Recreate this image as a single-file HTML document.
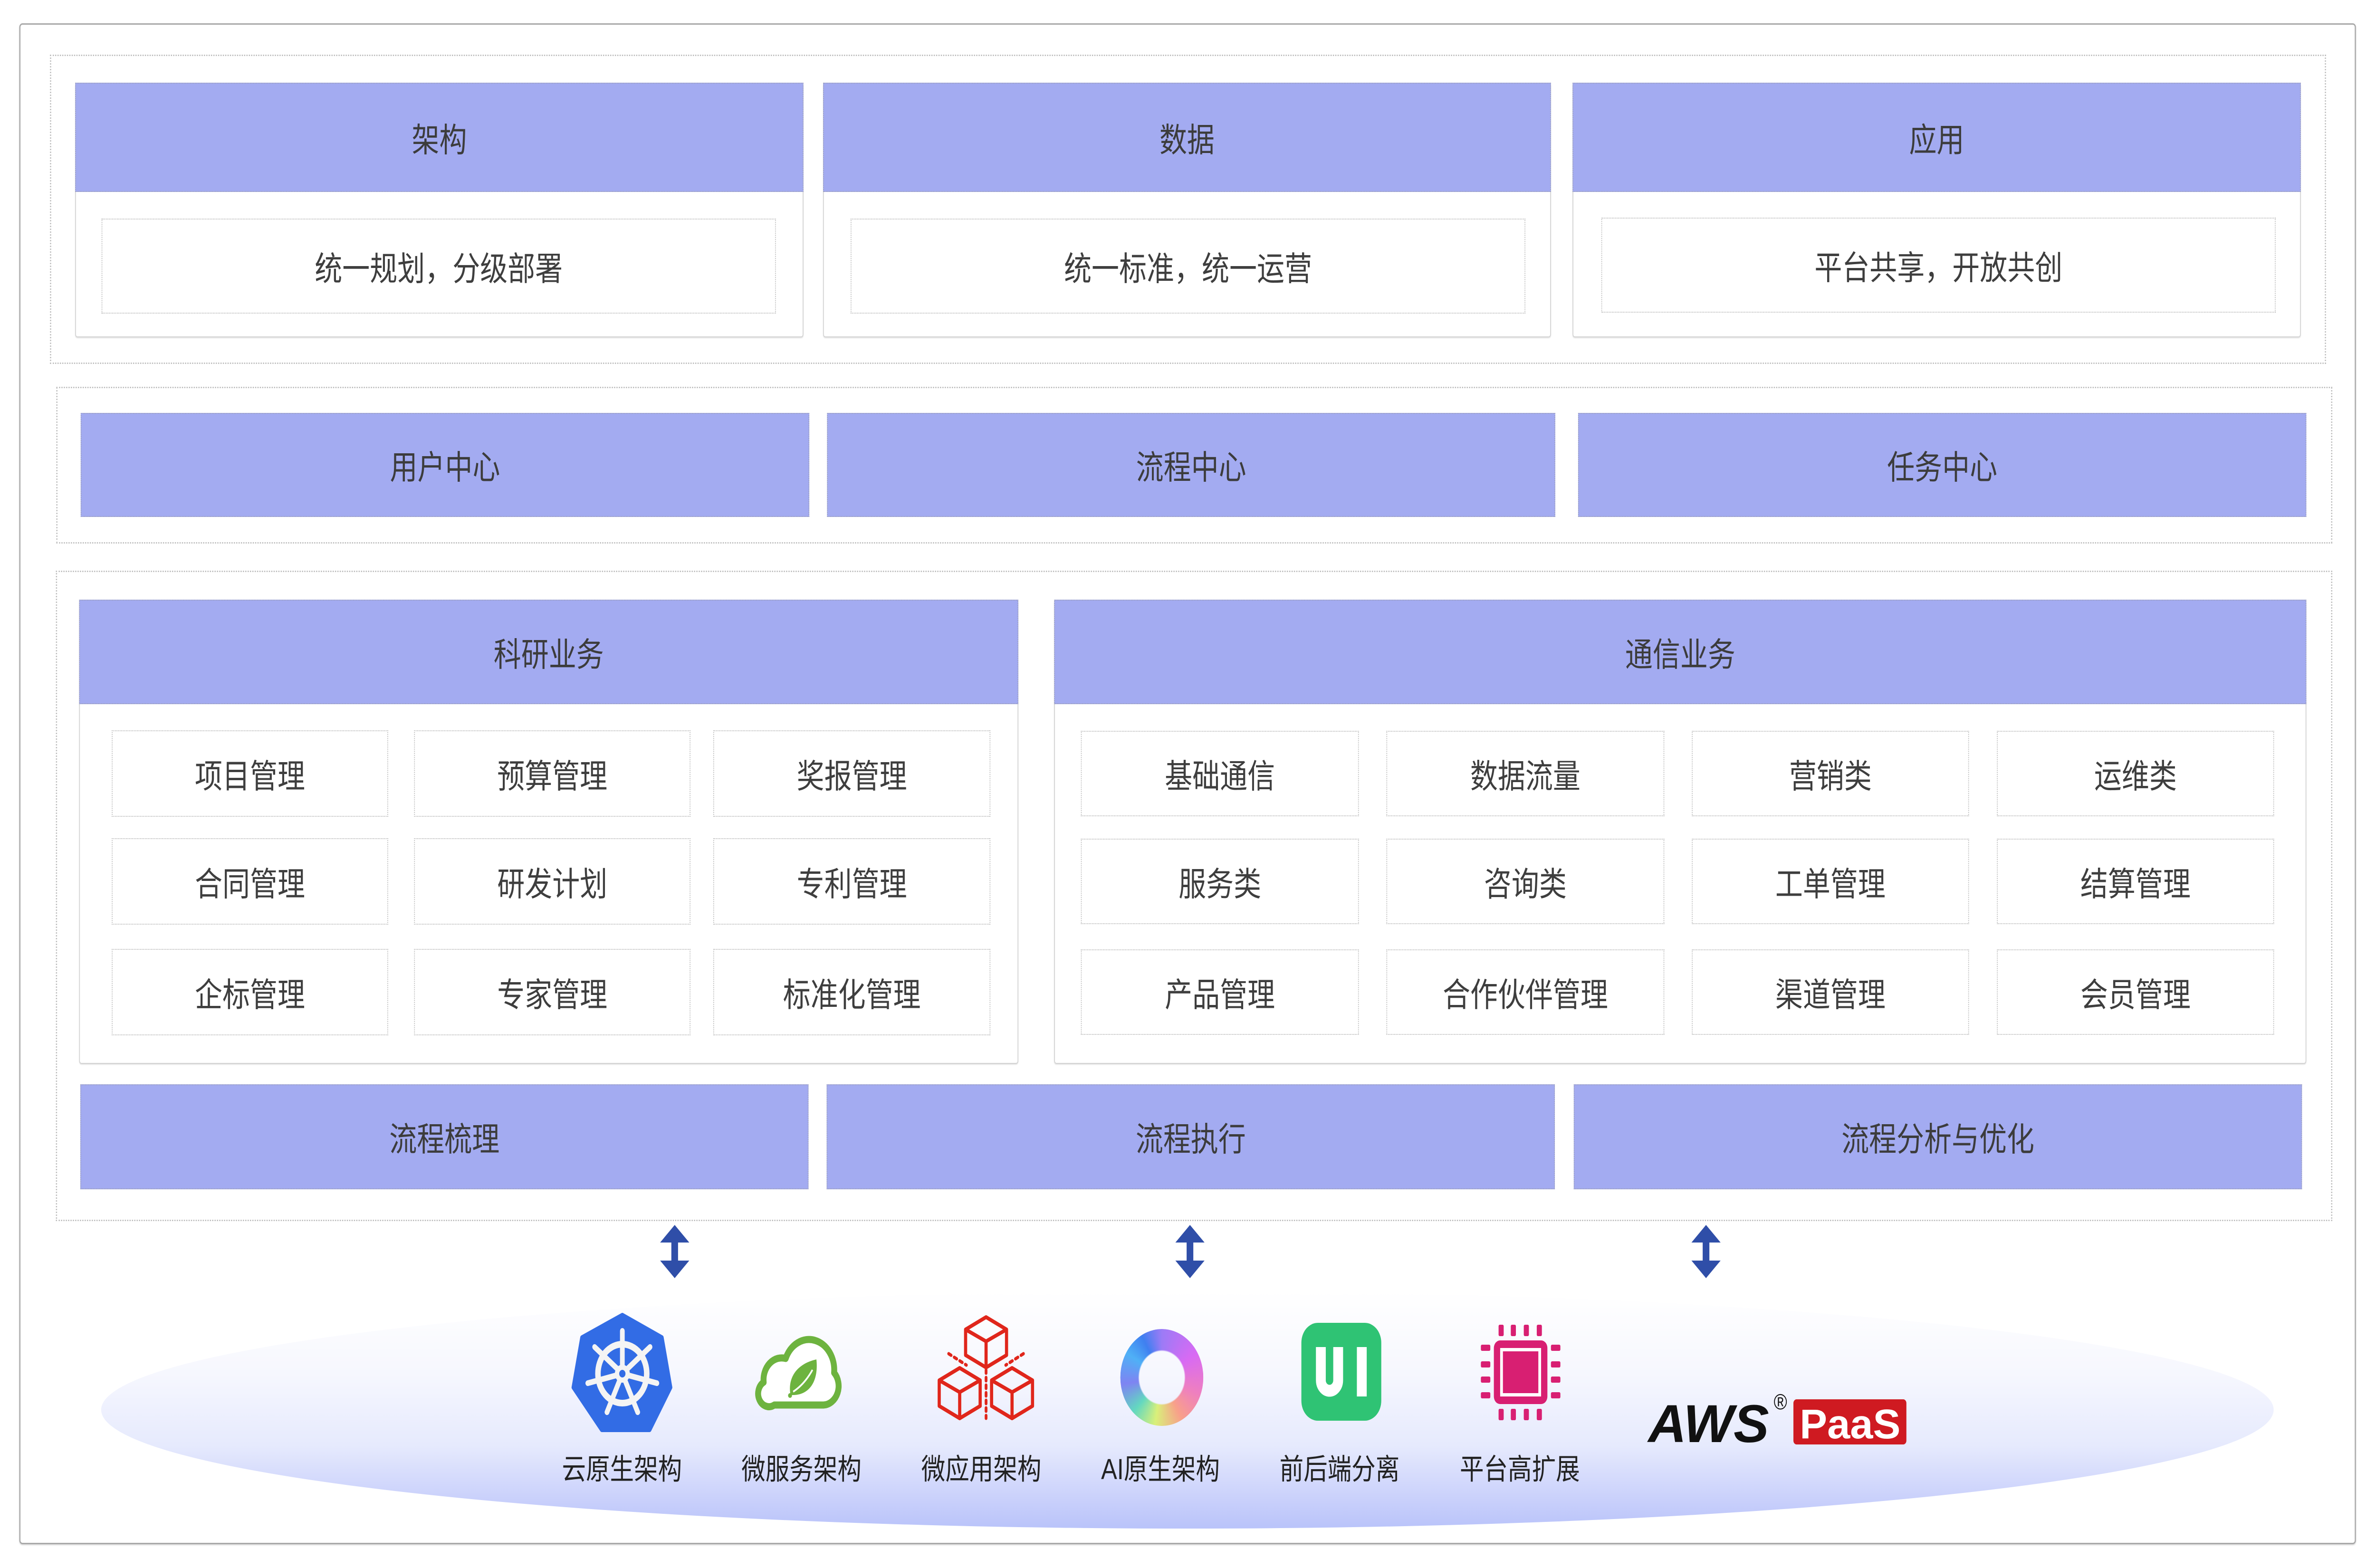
<!DOCTYPE html>
<html>
<head>
<meta charset="utf-8">
<style>
html,body{margin:0;padding:0;background:#fff;width:100%;height:100%;overflow:hidden;}
#root{position:fixed;left:0;top:0;width:100vw;height:100vh;display:block;}
.page{position:relative;width:6036px;height:3300px;background:#fff;font-family:"Liberation Sans","Noto Sans CJK SC",sans-serif;overflow:hidden;}
.a{position:absolute;box-sizing:border-box;}
.outer{border:3px solid #a9a9a9;border-radius:8px;box-shadow:0 2px 3px rgba(0,0,0,0.15);}
.grp{border:3px dotted #bfbfbf;}
.body{background:#fff;border:2px solid #d3d3d3;border-radius:6px;box-shadow:0 2px 2px rgba(0,0,0,0.10);}
.hdr{background:#a3abf1;border:2px dotted #9c9fba;display:flex;align-items:center;justify-content:center;font-size:70px;color:#3c3c3c;}
.item{background:#fff;border:2px dotted #bbbbbb;display:flex;align-items:center;justify-content:center;font-size:70px;color:#3e3e3e;}
.ell{border-radius:50%;background:linear-gradient(to bottom,#ffffff 0%,#f6f7fe 35%,#e6eafd 65%,#c9d0fb 88%,#b9c3fa 100%);}
.ai{border-radius:50%;background:conic-gradient(from 0deg,#9c7bf6 0deg,#d86af3 60deg,#ee7fc0 110deg,#f8a08a 150deg,#d9f07a 190deg,#63d8c0 225deg,#7e84f2 262deg,#4fb0f6 300deg,#3f7ff0 330deg,#9c7bf6 360deg);-webkit-mask:radial-gradient(closest-side,transparent 54%,#000 57%);mask:radial-gradient(closest-side,transparent 54%,#000 57%);}
</style>
</head>
<body>
<svg id="root" viewBox="0 0 6036 3300" preserveAspectRatio="none" xmlns="http://www.w3.org/2000/svg">
<foreignObject x="0" y="0" width="6036" height="3300">
<div xmlns="http://www.w3.org/1999/xhtml" class="page">

<!-- outer frame -->
<div class="a outer" style="left:49px;top:49px;width:5936px;height:3201px;"></div>

<!-- bottom ellipse -->
<div class="a ell" style="left:257px;top:2717px;width:5519px;height:500px;"></div>

<!-- Group 1 -->
<div class="a grp" style="left:127px;top:115px;width:5782px;height:651px;"></div>

<div class="a body" style="left:191px;top:174px;width:1850px;height:536px;"></div>
<div class="a hdr" style="left:191px;top:174px;width:1850px;height:230px;">架构</div>
<div class="a item" style="left:258px;top:460px;width:1713px;height:200px;">统一规划，分级部署</div>

<div class="a body" style="left:2091px;top:174px;width:1849px;height:536px;"></div>
<div class="a hdr" style="left:2091px;top:174px;width:1849px;height:230px;">数据</div>
<div class="a item" style="left:2161px;top:460px;width:1714px;height:200px;">统一标准，统一运营</div>

<div class="a body" style="left:3995px;top:174px;width:1850px;height:536px;"></div>
<div class="a hdr" style="left:3995px;top:174px;width:1850px;height:230px;">应用</div>
<div class="a item" style="left:4068px;top:458px;width:1713px;height:200px;">平台共享，开放共创</div>

<!-- Group 2 -->
<div class="a grp" style="left:143px;top:814px;width:5782px;height:330px;"></div>
<div class="a hdr" style="left:205px;top:869px;width:1851px;height:219px;">用户中心</div>
<div class="a hdr" style="left:2101px;top:869px;width:1850px;height:219px;">流程中心</div>
<div class="a hdr" style="left:4009px;top:869px;width:1850px;height:219px;">任务中心</div>

<!-- Group 3 -->
<div class="a grp" style="left:142px;top:1201px;width:5783px;height:1369px;"></div>

<div class="a body" style="left:201px;top:1262px;width:2386px;height:977px;"></div>
<div class="a hdr" style="left:201px;top:1262px;width:2386px;height:220px;">科研业务</div>

<div class="a item" style="left:284px;top:1537px;width:702px;height:182px;">项目管理</div>
<div class="a item" style="left:1052px;top:1537px;width:702px;height:182px;">预算管理</div>
<div class="a item" style="left:1812px;top:1537px;width:704px;height:182px;">奖报管理</div>
<div class="a item" style="left:284px;top:1764px;width:702px;height:182px;">合同管理</div>
<div class="a item" style="left:1052px;top:1764px;width:702px;height:182px;">研发计划</div>
<div class="a item" style="left:1812px;top:1764px;width:704px;height:182px;">专利管理</div>
<div class="a item" style="left:284px;top:1997px;width:702px;height:182px;">企标管理</div>
<div class="a item" style="left:1052px;top:1997px;width:702px;height:182px;">专家管理</div>
<div class="a item" style="left:1812px;top:1997px;width:704px;height:182px;">标准化管理</div>

<div class="a body" style="left:2678px;top:1262px;width:3181px;height:977px;"></div>
<div class="a hdr" style="left:2678px;top:1262px;width:3181px;height:220px;">通信业务</div>

<div class="a item" style="left:2746px;top:1538px;width:706px;height:180px;">基础通信</div>
<div class="a item" style="left:3522px;top:1538px;width:706px;height:180px;">数据流量</div>
<div class="a item" style="left:4298px;top:1538px;width:704px;height:180px;">营销类</div>
<div class="a item" style="left:5073px;top:1538px;width:704px;height:180px;">运维类</div>
<div class="a item" style="left:2746px;top:1765px;width:706px;height:180px;">服务类</div>
<div class="a item" style="left:3522px;top:1765px;width:706px;height:180px;">咨询类</div>
<div class="a item" style="left:4298px;top:1765px;width:704px;height:180px;">工单管理</div>
<div class="a item" style="left:5073px;top:1765px;width:704px;height:180px;">结算管理</div>
<div class="a item" style="left:2746px;top:1998px;width:706px;height:180px;">产品管理</div>
<div class="a item" style="left:3522px;top:1998px;width:706px;height:180px;">合作伙伴管理</div>
<div class="a item" style="left:4298px;top:1998px;width:704px;height:180px;">渠道管理</div>
<div class="a item" style="left:5073px;top:1998px;width:704px;height:180px;">会员管理</div>

<div class="a hdr" style="left:204px;top:2282px;width:1850px;height:221px;">流程梳理</div>
<div class="a hdr" style="left:2100px;top:2282px;width:1850px;height:221px;">流程执行</div>
<div class="a hdr" style="left:3998px;top:2282px;width:1850px;height:221px;">流程分析与优化</div>

<!-- AI ring -->
<div class="a ai" style="left:2846px;top:2797px;width:211px;height:204px;"></div>

</div>
</foreignObject>

  <!-- arrows -->
  <g fill="#2f4ea8">
    <polygon points="1714,2578 1751,2615 1722.5,2615 1722.5,2653 1751,2653 1714,2690 1677,2653 1705.5,2653 1705.5,2615 1677,2615"/>
    <polygon points="3023,2578 3060,2615 3031.5,2615 3031.5,2653 3060,2653 3023,2690 2986,2653 3014.5,2653 3014.5,2615 2986,2615"/>
    <polygon points="4334,2578 4371,2615 4342.5,2615 4342.5,2653 4371,2653 4334,2690 4297,2653 4325.5,2653 4325.5,2615 4297,2615"/>
  </g>

  <!-- Kubernetes icon -->
  <g transform="translate(1457,2768)">
    <polygon points="124,0 224,47 246,152 193,241 72,241 0,152 22,47" fill="#326ce5" stroke="#326ce5" stroke-width="10" stroke-linejoin="round"/>
    <g transform="translate(124,123)" stroke="#f4f4f4" stroke-linecap="round" fill="none">
      <circle r="62" stroke-width="14"/>
      <g stroke-width="12">
        <line x1="0" y1="0" x2="0" y2="-90" transform="rotate(0)"/>
        <line x1="0" y1="0" x2="0" y2="-90" transform="rotate(51.43)"/>
        <line x1="0" y1="0" x2="0" y2="-90" transform="rotate(102.86)"/>
        <line x1="0" y1="0" x2="0" y2="-90" transform="rotate(154.29)"/>
        <line x1="0" y1="0" x2="0" y2="-90" transform="rotate(205.71)"/>
        <line x1="0" y1="0" x2="0" y2="-90" transform="rotate(257.14)"/>
        <line x1="0" y1="0" x2="0" y2="-90" transform="rotate(308.57)"/>
      </g>
      <circle r="19" fill="#f4f4f4" stroke="none"/>
      <circle r="8" fill="#326ce5" stroke="none"/>
    </g>
  </g>

  <!-- Spring cloud icon -->
  <g transform="translate(1912,2809)">
    <path d="M 55 148 L 180 148 A 40 40 0 0 0 207 80 A 64 64 0 0 0 84 50 A 46 46 0 0 0 28 100 A 26 26 0 0 0 55 148 Z" fill="#ffffff" stroke="#6db33f" stroke-width="15" stroke-linejoin="round"/>
    <path d="M 96 126 C 88 86 118 60 162 52 C 168 98 144 128 100 127 Z" fill="#6db33f"/>
    <path d="M 103 120 Q 132 104 152 74" stroke="#ffffff" stroke-width="4" fill="none"/>
    <circle cx="95" cy="128" r="5" fill="#6db33f"/>
  </g>

  <!-- Micro-app cubes icon -->
  <g transform="translate(2381,2767)" fill="none" stroke="#e0261b" stroke-width="8" stroke-linejoin="round">
    <g transform="translate(124,58)">
      <polygon points="0,-53 52,-27 52,27 0,53 -52,27 -52,-27"/>
      <polyline points="-52,-27 0,-2 52,-27"/>
      <line x1="0" y1="-2" x2="0" y2="53"/>
    </g>
    <g transform="translate(57,165)">
      <polygon points="0,-53 52,-27 52,27 0,53 -52,27 -52,-27"/>
      <polyline points="-52,-27 0,-2 52,-27"/>
      <line x1="0" y1="-2" x2="0" y2="53"/>
    </g>
    <g transform="translate(190,165)">
      <polygon points="0,-53 52,-27 52,27 0,53 -52,27 -52,-27"/>
      <polyline points="-52,-27 0,-2 52,-27"/>
      <line x1="0" y1="-2" x2="0" y2="53"/>
    </g>
    <g stroke-dasharray="7 9" stroke-width="7" stroke-linecap="round">
      <line x1="124" y1="116" x2="124" y2="218"/>
      <line x1="29" y1="82" x2="74" y2="106"/>
      <line x1="219" y1="82" x2="174" y2="106"/>
    </g>
  </g>

  <!-- UI icon -->
  <g transform="translate(3306,2784)">
    <rect x="0" y="0" width="203" height="206" rx="42" fill="#2fc374"/>
    <path d="M 49.5 51 V 121 A 22 22 0 0 0 93.5 121 V 51" stroke="#ffffff" stroke-width="25" fill="none"/>
    <rect x="141" y="51" width="25" height="104" fill="#ffffff"/>
  </g>

  <!-- Chip icon -->
  <g transform="translate(3762,2788)" fill="#d81f72">
    <rect x="33" y="33" width="136" height="134" rx="16"/>
    <rect x="49" y="49" width="104" height="102" fill="#ffffff"/>
    <rect x="56" y="56" width="90" height="88"/>
    <rect x="45" y="0" width="13" height="24" rx="3"/>
    <rect x="76" y="0" width="13" height="24" rx="3"/>
    <rect x="109" y="0" width="13" height="24" rx="3"/>
    <rect x="142" y="0" width="13" height="24" rx="3"/>
    <rect x="45" y="177" width="13" height="24" rx="3"/>
    <rect x="76" y="177" width="13" height="24" rx="3"/>
    <rect x="109" y="177" width="13" height="24" rx="3"/>
    <rect x="142" y="177" width="13" height="24" rx="3"/>
    <rect x="0" y="42" width="24" height="13" rx="3"/>
    <rect x="0" y="77" width="24" height="13" rx="3"/>
    <rect x="0" y="109" width="24" height="13" rx="3"/>
    <rect x="0" y="142" width="24" height="13" rx="3"/>
    <rect x="178" y="42" width="24" height="13" rx="3"/>
    <rect x="178" y="77" width="24" height="13" rx="3"/>
    <rect x="178" y="109" width="24" height="13" rx="3"/>
    <rect x="178" y="142" width="24" height="13" rx="3"/>
  </g>

  <!-- AWS PaaS logo -->
  <text x="4187" y="3035" font-family="Liberation Sans, sans-serif" font-weight="bold" font-style="italic" font-size="112" fill="#111111" textLength="307" lengthAdjust="spacingAndGlyphs">AWS</text>
  <text x="4506" y="2966" font-family="Liberation Sans, sans-serif" font-size="46" fill="#111111">®</text>
  <rect x="4556" y="2945" width="287" height="95" rx="8" fill="#cf1a21"/>
  <text x="4572" y="3027" font-family="Liberation Sans, sans-serif" font-weight="bold" font-size="87" fill="#ffffff" textLength="256" lengthAdjust="spacingAndGlyphs">PaaS</text>

  <!-- labels -->
  <g font-family="Liberation Sans, Noto Sans CJK SC, sans-serif" font-size="61" fill="#222222" text-anchor="middle" dominant-baseline="central">
    <text x="1580" y="3092">云原生架构</text>
    <text x="2036" y="3092">微服务架构</text>
    <text x="2493" y="3092">微应用架构</text>
    <text x="2948" y="3092">AI原生架构</text>
    <text x="3403" y="3092">前后端分离</text>
    <text x="3861" y="3092">平台高扩展</text>
  </g>
</svg>
</body>
</html>
